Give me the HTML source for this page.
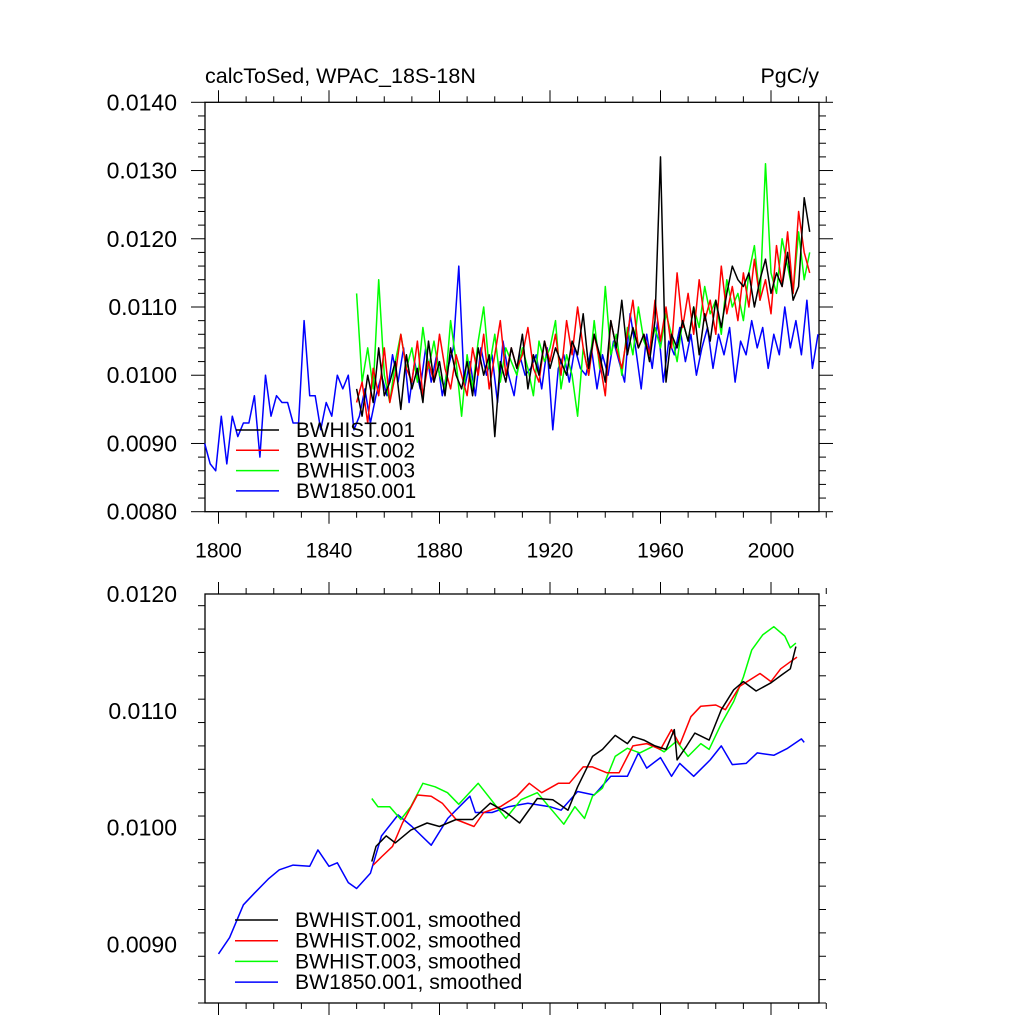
<!DOCTYPE html>
<html><head><meta charset="utf-8"><style>
html,body{margin:0;padding:0;background:#fff;}
svg{display:block;font-family:"Liberation Sans",sans-serif;}
</style></head><body>
<svg id="chart" width="1024" height="1024" viewBox="0 0 1024 1024">
<text x="205" y="83" font-size="21.5">calcToSed, WPAC_18S-18N</text>
<text x="819" y="83" font-size="21.5" text-anchor="end">PgC/y</text>
<g id="top"></g>
<g id="bot"></g>
</svg>
<script>
// ---- top panel data (2-year step) ----
const histYears0 = 1850;
const blueYears0 = 1795;
const bwhist001 = [0.0098,0.0094,0.0100,0.0096,0.0104,0.0097,0.0099,0.0102,0.0095,0.0103,
0.0098,0.0101,0.0096,0.0105,0.0099,0.0102,0.0097,0.0104,0.0100,0.0098,
0.0102,0.0097,0.0104,0.0100,0.0103,0.0091,0.0102,0.0099,0.0104,0.0101,
0.0106,0.0098,0.0103,0.0100,0.0105,0.0101,0.0104,0.0102,0.0100,0.0105,
0.0103,0.0109,0.0101,0.0106,0.0103,0.0099,0.0108,0.0104,0.0111,0.0103,
0.0107,0.0104,0.0106,0.0102,0.0108,0.0132,0.0099,0.0106,0.0104,0.0108,
0.0105,0.0110,0.0103,0.0109,0.0105,0.0111,0.0107,0.0112,0.0116,0.0114,
0.0113,0.0115,0.0110,0.0114,0.0117,0.0112,0.0115,0.0113,0.0118,0.0111,
0.0113,0.0126,0.0121];
const bwhist002 = [0.0096,0.0099,0.0093,0.0101,0.0097,0.0104,0.0096,0.0100,0.0106,0.0101,
0.0099,0.0105,0.0097,0.0102,0.0099,0.0106,0.0101,0.0098,0.0103,0.0100,
0.0097,0.0104,0.0100,0.0106,0.0098,0.0103,0.0108,0.0100,0.0104,0.0101,
0.0103,0.0107,0.0101,0.0099,0.0105,0.0102,0.0106,0.0100,0.0108,0.0103,
0.0110,0.0104,0.0100,0.0106,0.0102,0.0097,0.0108,0.0104,0.0101,0.0106,
0.0111,0.0104,0.0106,0.0103,0.0111,0.0105,0.0110,0.0104,0.0115,0.0107,
0.0112,0.0106,0.0114,0.0108,0.0111,0.0106,0.0116,0.0109,0.0113,0.0108,
0.0115,0.0110,0.0117,0.0111,0.0114,0.0109,0.0119,0.0113,0.0121,0.0112,
0.0124,0.0118,0.0115];
const bwhist003 = [0.0112,0.0099,0.0104,0.0098,0.0114,0.0100,0.0096,0.0102,0.0106,0.0101,
0.0104,0.0099,0.0107,0.0101,0.0105,0.0100,0.0098,0.0108,0.0102,0.0094,
0.0103,0.0098,0.0105,0.0110,0.0101,0.0106,0.0099,0.0104,0.0102,0.0100,
0.0104,0.0101,0.0097,0.0105,0.0102,0.0104,0.0108,0.0098,0.0103,0.0100,
0.0094,0.0104,0.0100,0.0108,0.0101,0.0113,0.0103,0.0106,0.0100,0.0107,
0.0103,0.0110,0.0105,0.0103,0.0107,0.0104,0.0109,0.0106,0.0102,0.0108,
0.0105,0.0110,0.0107,0.0113,0.0109,0.0111,0.0106,0.0114,0.0110,0.0112,
0.0108,0.0115,0.0119,0.0111,0.0131,0.0115,0.0112,0.0120,0.0116,0.0112,
0.0121,0.0114,0.0118];
const bw1850001 = [0.0090,0.0087,0.0086,0.0094,0.0087,0.0094,0.0091,0.0093,0.0093,0.0097,
0.0088,0.0100,0.0094,0.0097,0.0096,0.0096,0.0093,0.0093,0.0108,0.0097,
0.0097,0.0092,0.0096,0.0094,0.0100,0.0098,0.0100,0.0092,0.0094,0.0098,
0.0093,0.0097,0.0100,0.0097,0.0103,0.0099,0.0104,0.0096,0.0102,0.0098,
0.0104,0.0099,0.0103,0.0097,0.0101,0.0104,0.0116,0.0098,0.0102,0.0097,
0.0104,0.0100,0.0103,0.0096,0.0105,0.0100,0.0097,0.0103,0.0100,0.0101,
0.0103,0.0098,0.0104,0.0092,0.0101,0.0103,0.0099,0.0104,0.0101,0.0100,
0.0104,0.0098,0.0103,0.0100,0.0105,0.0102,0.0099,0.0109,0.0104,0.0098,
0.0106,0.0101,0.0108,0.0099,0.0105,0.0103,0.0107,0.0102,0.0106,0.0100,
0.0104,0.0107,0.0101,0.0106,0.0103,0.0107,0.0099,0.0105,0.0103,0.0108,
0.0104,0.0107,0.0101,0.0106,0.0103,0.0110,0.0104,0.0108,0.0103,0.0111,
0.0101,0.0106];
// ---- bottom panel data (smoothed) ----
const smBlueYears = [1800,1804,1809,1813,1818,1822,1827,1833,1836,1840,1843,1847,1850,1855,1859,1865,1870,1877,1883,1891,1893,1899,1905,1912,1920,1924,1930,1936,1942,1948,1952,1955,1960,1964,1967,1972,1978,1982,1986,1991,1995,2001,2006,2011,2012];
const smBlueVals = [0.00892,0.00906,0.00934,0.00944,0.00956,0.00964,0.00968,0.00967,0.00981,0.00967,0.00970,0.00953,0.00948,0.00961,0.00993,0.01011,0.01001,0.00985,0.01008,0.01027,0.01013,0.01013,0.01018,0.01021,0.01018,0.01015,0.01031,0.01028,0.01044,0.01044,0.01064,0.01051,0.01060,0.01044,0.01055,0.01044,0.01058,0.01070,0.01054,0.01055,0.01064,0.01062,0.01068,0.01076,0.01073];
const smBlackYears = [1855.5,1857,1860.7,1864,1869.6,1875.5,1880,1886,1892,1898.4,1903.6,1909,1915.4,1921,1926.5,1930,1935.4,1939,1943.6,1948,1950,1954,1958,1962,1965,1966,1969.5,1972.4,1977.6,1982,1986.5,1990,1994.6,2000,2004,2007,2009];
const smBlackVals = [0.00971,0.00984,0.00993,0.00987,0.00998,0.01004,0.01001,0.01007,0.01007,0.01021,0.01014,0.01004,0.01025,0.01024,0.01015,0.01035,0.01061,0.01067,0.01079,0.01072,0.01078,0.01075,0.01070,0.01067,0.01084,0.01058,0.01070,0.01081,0.01075,0.01101,0.01118,0.01125,0.01117,0.01124,0.01131,0.01136,0.01155];
const smRedYears = [1856,1859,1863,1866.6,1872,1877,1881,1886,1892.5,1896,1902,1908,1912.5,1917,1923,1927,1932,1935.4,1940.6,1945,1950,1955,1960,1964,1967,1971,1974.6,1980,1983.5,1988.7,1992,1996,2000,2003.5,2007,2009.4];
const smRedVals = [0.00968,0.00975,0.00984,0.01004,0.01028,0.01027,0.01021,0.01007,0.01001,0.01013,0.01018,0.01027,0.01038,0.01030,0.01038,0.01038,0.01052,0.01052,0.01047,0.01047,0.01070,0.01072,0.01067,0.01084,0.01071,0.01095,0.01104,0.01105,0.01101,0.01121,0.01126,0.01132,0.01125,0.01136,0.01142,0.01146];
const smGreenYears = [1855.5,1857.7,1862,1866,1869.6,1874,1878.4,1882.9,1887,1894,1899,1904,1909.5,1915.4,1920,1925,1929,1932.5,1935.4,1939,1943.6,1948,1952.5,1957.6,1961.3,1965.8,1970,1974.6,1977.6,1982,1986.5,1990,1993,1997,2001,2005,2007,2009];
const smGreenVals = [0.01025,0.01018,0.01018,0.01007,0.01018,0.01038,0.01035,0.01030,0.01020,0.01038,0.01023,0.01008,0.01024,0.01030,0.01017,0.01003,0.01018,0.01008,0.01027,0.01034,0.01061,0.01068,0.01064,0.01070,0.01065,0.01074,0.01061,0.01072,0.01067,0.01089,0.01108,0.01129,0.01152,0.01165,0.01172,0.01164,0.01154,0.01158];
const topYTicks = ["0.0080","0.0090","0.0100","0.0110","0.0120","0.0130","0.0140"];
const botYTicks = ["0.0090","0.0100","0.0110","0.0120"];
const xTickLabels = ["1800","1840","1880","1920","1960","2000"];

const NS = "http://www.w3.org/2000/svg";
function mk(parent, tag, attrs){ const e=document.createElementNS(NS,tag); for(const k in attrs) e.setAttribute(k,attrs[k]); parent.appendChild(e); return e; }
const xs = yr => 218.5 + (yr-1800)*2.7625;
const L=205, R=819;

function panel(g, top, bot, vmin, vmax, yLabels, showX){
  const ys = v => bot - (v-vmin)/(vmax-vmin)*(bot-top);
  const f = mk(g,'rect',{x:L,y:top,width:R-L,height:bot-top,fill:'none',stroke:'#000','stroke-width':1.3});
  
  
  for(let yr=1800; yr<=2020; yr+=10){
    const x=xs(yr), len = (yr%40===0)?12:6;
    const t1=mk(g,'line',{x1:x,x2:x,y1:bot,y2:bot+len,stroke:'#000','stroke-width':1});
    
    
    const t2=mk(g,'line',{x1:x,x2:x,y1:top,y2:top-len,stroke:'#000','stroke-width':1});
    
    
  }
  if(showX){
    xTickLabels.forEach(s=>{
      const t=mk(g,'text',{x:xs(+s),y:bot+46,'font-size':21,'text-anchor':'middle'});
      t.textContent=s;
      
      
    });
  }
  const nMinor = Math.round((vmax-vmin)/0.0002);
  for(let i=0;i<=nMinor;i++){
    const v=vmin+i*0.0002, y=ys(v), major = Math.round(v*10000)%10===0;
    const len = major?14:7;
    const a=mk(g,'line',{x1:L,x2:L-len,y1:y,y2:y,stroke:'#000','stroke-width':1});
    
    
    const b=mk(g,'line',{x1:R,x2:R+len,y1:y,y2:y,stroke:'#000','stroke-width':1});
    
    
  }
  yLabels.forEach(s=>{
    const t=mk(g,'text',{x:177,y:ys(+s)+8,'font-size':23,'text-anchor':'end'});
    t.textContent=s;
    
    
  });
  return ys;
}
function line(g, xsArr, vals, ys, color, name){
  const d = vals.map((v,i)=>(i?'L':'M')+xs(xsArr[i]).toFixed(1)+','+ys(v).toFixed(1)).join('');
  const p=mk(g,'path',{d:d,fill:'none',stroke:color,'stroke-width':1.5,'stroke-linejoin':'round'});
  
  
}
function legend(g, x0, y0, dy, fs, items){
  items.forEach((it,i)=>{
    const y=y0+i*dy;
    const l=mk(g,'line',{x1:x0,x2:x0+43,y1:y,y2:y,stroke:it[1],'stroke-width':1.5});
    
    
    const t=mk(g,'text',{x:x0+60,y:y+7,'font-size':fs});
    t.textContent=it[0];
    
    
  });
}
const gt=document.getElementById('top'), gb=document.getElementById('bot');
const ysT = panel(gt, 102.3, 511.7, 0.0080, 0.0140, topYTicks, true);
const yh = i=>histYears0+2*i, yb=i=>blueYears0+2*i;
line(gt, bw1850001.map((v,i)=>yb(i)), bw1850001, ysT, '#0000ff', 'series-bw1850-001');
line(gt, bwhist003.map((v,i)=>yh(i)), bwhist003, ysT, '#00ff00', 'series-bwhist-003');
line(gt, bwhist002.map((v,i)=>yh(i)), bwhist002, ysT, '#ff0000', 'series-bwhist-002');
line(gt, bwhist001.map((v,i)=>yh(i)), bwhist001, ysT, '#000000', 'series-bwhist-001');
legend(gt, 236, 430, 20.3, 20.8, [['BWHIST.001','#000'],['BWHIST.002','#f00'],['BWHIST.003','#0f0'],['BW1850.001','#00f']]);

const ysB = panel(gb, 594, 1003, 0.0085, 0.0120, botYTicks, false);
line(gb, smBlueYears, smBlueVals, ysB, '#0000ff', 'series-bw1850-001-smoothed');
line(gb, smGreenYears, smGreenVals, ysB, '#00ff00', 'series-bwhist-003-smoothed');
line(gb, smRedYears, smRedVals, ysB, '#ff0000', 'series-bwhist-002-smoothed');
line(gb, smBlackYears, smBlackVals, ysB, '#000000', 'series-bwhist-001-smoothed');
legend(gb, 235, 920, 20.7, 21.2, [['BWHIST.001, smoothed','#000'],['BWHIST.002, smoothed','#f00'],['BWHIST.003, smoothed','#0f0'],['BW1850.001, smoothed','#00f']]);
</script>
</body></html>
